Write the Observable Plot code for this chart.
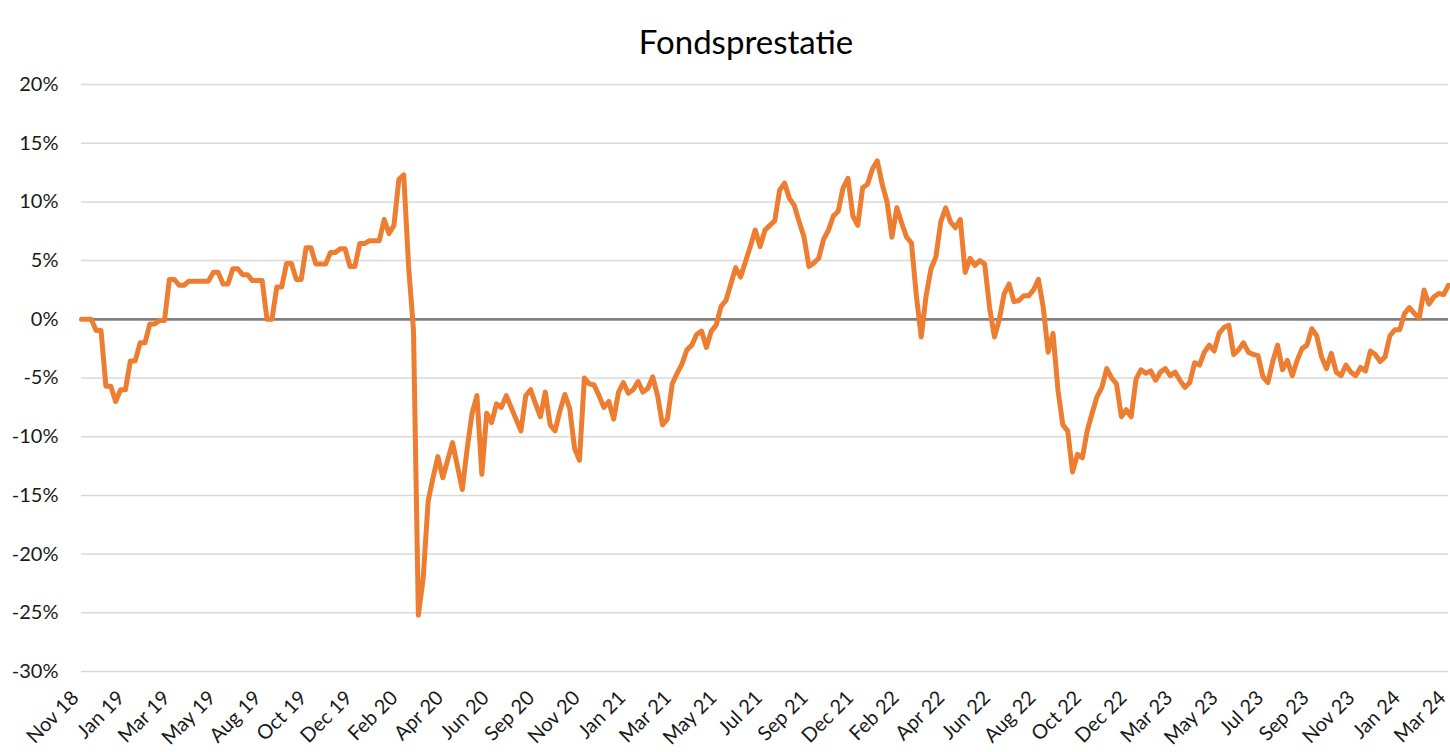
<!DOCTYPE html>
<html>
<head>
<meta charset="utf-8">
<script src="https://cdn.jsdelivr.net/npm/d3@7"></script>
<script src="https://cdn.jsdelivr.net/npm/@observablehq/plot@0.6"></script>
<style>
  body { margin: 0; background: #fff; }
  svg { display: block; }
</style>
</head>
<body>
<div id="chart"></div>
<script>
const title = "Fondsprestatie";
const startDate = "2018-11-14";
const stepDays = 7; // weekly observations
const tickLabels = ["Nov 18","Jan 19","Mar 19","May 19","Aug 19","Oct 19","Dec 19","Feb 20","Apr 20","Jun 20","Sep 20","Nov 20","Jan 21","Mar 21","May 21","Jul 21","Sep 21","Dec 21","Feb 22","Apr 22","Jun 22","Aug 22","Oct 22","Dec 22","Mar 23","May 23","Jul 23","Sep 23","Nov 23","Jan 24","Mar 24"];
const yTicks = [-30, -25, -20, -15, -10, -5, 0, 5, 10, 15, 20];
// weekly fund performance, in %
const values = [
  0,0,0,-0.95,-0.95,-5.7,-5.7,-7.0,-6.0,-6.0,
  -3.55,-3.55,-2.0,-2.0,-0.4,-0.4,-0.1,-0.1,3.4,3.4,
  2.9,2.9,3.25,3.25,3.25,3.25,3.25,4.0,4.0,3.0,
  3.0,4.3,4.3,3.8,3.8,3.3,3.3,3.3,0,0,
  2.75,2.75,4.75,4.75,3.4,3.4,6.1,6.1,4.7,4.7,
  4.7,5.7,5.7,6.0,6.0,4.5,4.5,6.45,6.45,6.7,
  6.7,6.7,8.5,7.3,8.0,11.9,12.3,4.5,-0.9,-25.2,
  -22,-15.5,-13.5,-11.7,-13.5,-12.0,-10.5,-12.5,-14.5,-11.0,
  -8.0,-6.5,-13.2,-8.0,-8.8,-7.2,-7.5,-6.5,-7.5,-8.5,
  -9.5,-6.5,-6.0,-7.2,-8.3,-6.2,-9.0,-9.5,-7.8,-6.4,
  -7.6,-11.0,-12.0,-5.0,-5.5,-5.6,-6.5,-7.5,-7.0,-8.5,
  -6.2,-5.4,-6.3,-6.0,-5.3,-6.2,-5.9,-4.9,-6.5,-9.0,
  -8.5,-5.5,-4.6,-3.8,-2.6,-2.2,-1.3,-1.0,-2.4,-1.0,
  -0.5,1.1,1.6,3.0,4.4,3.6,4.9,6.2,7.6,6.2,
  7.6,8.0,8.4,11.0,11.6,10.3,9.7,8.3,7.0,4.5,
  4.8,5.2,6.8,7.6,8.8,9.2,11.2,12.0,8.8,8.0,
  11.2,11.5,12.8,13.5,11.5,10.0,7.0,9.5,8.2,7.0,
  6.5,2.0,-1.5,2.0,4.3,5.3,8.3,9.5,8.3,7.8,
  8.5,4.0,5.2,4.6,5.0,4.7,1.0,-1.5,0.0,2.2,
  3.0,1.5,1.6,2.0,2.0,2.5,3.4,1.0,-2.8,-1.2,
  -6.0,-9.0,-9.5,-13.0,-11.5,-11.8,-9.5,-8.0,-6.6,-5.8,
  -4.2,-5.0,-5.5,-8.3,-7.7,-8.3,-5.1,-4.3,-4.6,-4.4,
  -5.2,-4.5,-4.2,-4.8,-4.5,-5.2,-5.8,-5.4,-3.7,-3.9,
  -2.8,-2.2,-2.7,-1.2,-0.7,-0.5,-3.0,-2.6,-2.0,-2.8,
  -3.0,-3.1,-4.9,-5.4,-3.6,-2.2,-4.3,-3.5,-4.8,-3.5,
  -2.5,-2.2,-0.8,-1.4,-3.2,-4.2,-2.9,-4.5,-4.8,-3.9,
  -4.5,-4.8,-4.1,-4.4,-2.7,-3.0,-3.6,-3.2,-1.4,-0.9,
  -0.9,0.5,1.0,0.5,0.1,2.5,1.3,1.9,2.2,2.1,2.9
];

const start = new Date(startDate + "T00:00:00Z");
const data = values.map((v, i) => ({date: d3.utcDay.offset(start, i * stepDays), value: v}));
const end = data[data.length - 1].date;
const tickDates = tickLabels.map((_, i) => new Date(+start + (end - start) * i / (tickLabels.length - 1)));
const labelOf = new Map(tickDates.map((d, i) => [+d, tickLabels[i]]));

const chart = Plot.plot({
  width: 1450,
  height: 752,
  marginTop: 84,
  marginBottom: 81,
  marginLeft: 81,
  marginRight: 2,
  style: {fontFamily: "Lato, 'Liberation Sans', sans-serif", fontSize: "20px", color: "#1a1a1a", background: "#fff"},
  x: {type: "utc", domain: [start, end]},
  y: {domain: [-30, 20]},
  marks: [
    Plot.ruleY(yTicks.filter(d => d !== 0), {stroke: "#d9d9d9", strokeWidth: 1.5}),
    Plot.ruleY([0], {stroke: "#808080", strokeWidth: 2.8}),
    Plot.axisY({ticks: yTicks, tickFormat: d => d + "%", tickSize: 0, tickPadding: 23, label: null, fontSize: 20}),
    Plot.axisX({ticks: tickDates, tickFormat: d => labelOf.get(+d), tickRotate: -45, tickSize: 0, tickPadding: 23, dx: -6, label: null, fontSize: 20}),
    Plot.line(data, {x: "date", y: "value", stroke: "#ED7D31", strokeWidth: 5, strokeLinejoin: "round", strokeLinecap: "round"}),
    Plot.text([title], {frameAnchor: "top", dx: -19, dy: -54, fontSize: 33, fill: "#000"})
  ]
});
document.getElementById("chart").appendChild(chart);
</script>
</body>
</html>
